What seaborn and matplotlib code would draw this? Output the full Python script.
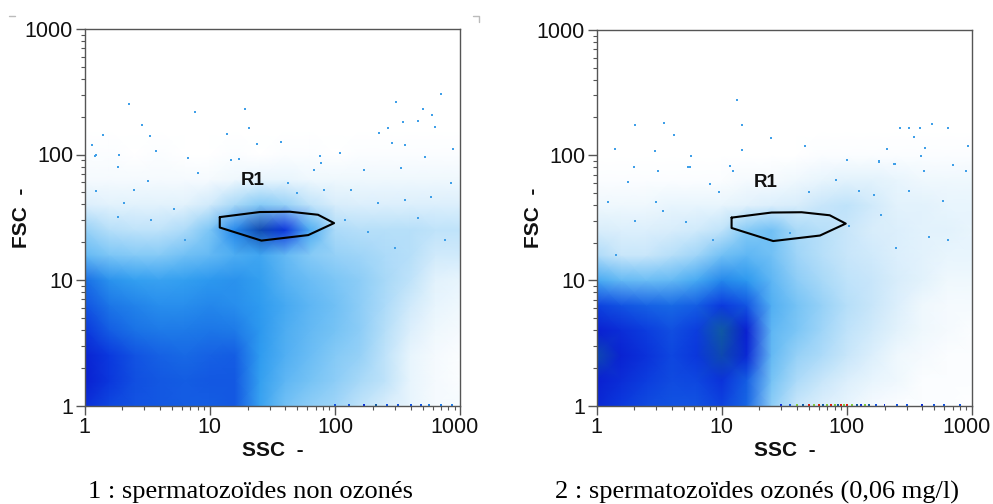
import numpy as np
import matplotlib
matplotlib.use("Agg")
import matplotlib.pyplot as plt
import seaborn as sns
from matplotlib.colors import LinearSegmentedColormap, Normalize
from matplotlib.lines import Line2D
from matplotlib.ticker import FixedFormatter, FixedLocator, LogLocator, NullFormatter
from matplotlib.transforms import ScaledTranslation

# =============================
# DATA
# =============================
# density nodes: 5 per decade on both log axes, rows go from FSC=1 upward
grid_ssc = [1, 1.58, 2.51, 3.98, 6.31, 10, 15.8, 25.1, 39.8, 63.1, 100, 158, 251, 398, 631, 1000]
grid_fsc = [1, 1.58, 2.51, 3.98, 6.31, 10, 15.8, 25.1, 39.8, 63.1, 100, 158, 251, 398, 631, 1000]

density_left = [
    [6.0, 5.3, 5.0, 4.9, 4.8, 4.8, 4.9, 2.9, 2.0, 1.6, 1.4, 1.0, 0.7, 0.4, 0.2, 0.2],
    [6.6, 5.7, 5.1, 4.9, 4.8, 4.9, 4.9, 3.0, 2.3, 1.9, 1.6, 1.3, 1.0, 0.4, 0.2, 0.1],
    [6.5, 5.6, 5.0, 4.7, 4.5, 4.7, 4.8, 3.1, 2.5, 2.1, 1.7, 1.5, 1.0, 0.4, 0.2, 0.1],
    [5.7, 4.8, 4.3, 4.1, 4.1, 4.2, 4.1, 3.2, 2.6, 2.2, 1.9, 1.6, 1.1, 0.6, 0.3, 0.2],
    [5.0, 4.2, 3.8, 3.5, 3.5, 3.7, 3.5, 3.1, 2.7, 2.3, 2.0, 1.6, 1.2, 0.8, 0.4, 0.3],
    [4.4, 3.4, 3.0, 2.9, 3.0, 3.2, 3.4, 3.0, 2.4, 2.1, 1.8, 1.6, 1.3, 1.0, 0.5, 0.4],
    [2.2, 1.8, 1.7, 1.7, 2.0, 2.2, 2.6, 2.8, 2.2, 1.7, 1.5, 1.4, 1.2, 1.1, 0.8, 0.8],
    [1.5, 1.1, 1.0, 1.0, 1.2, 1.8, 3.7, 6.9, 5.8, 2.6, 1.2, 1.1, 1.1, 1.1, 1.0, 1.0],
    [0.6, 0.5, 0.5, 0.5, 0.5, 0.8, 1.3, 1.7, 1.5, 1.0, 0.7, 0.6, 0.6, 0.6, 0.6, 0.6],
    [0.2, 0.2, 0.2, 0.2, 0.2, 0.2, 0.3, 0.4, 0.4, 0.3, 0.3, 0.3, 0.3, 0.3, 0.3, 0.3],
    [0.1, 0.1, 0.0, 0.1, 0.0, 0.0, 0.1, 0.0, 0.1, 0.1, 0.0, 0.1, 0.1, 0.1, 0.1, 0.1],
    [0.0, 0.0, 0.0, 0.0, 0.0, 0.0, 0.0, 0.0, 0.0, 0.0, 0.0, 0.0, 0.0, 0.0, 0.0, 0.0],
    [0.0, 0.0, 0.0, 0.0, 0.0, 0.0, 0.0, 0.0, 0.0, 0.0, 0.0, 0.0, 0.0, 0.0, 0.0, 0.0],
    [0.0, 0.0, 0.0, 0.0, 0.0, 0.0, 0.0, 0.0, 0.0, 0.0, 0.0, 0.0, 0.0, 0.0, 0.0, 0.0],
    [0.0, 0.0, 0.0, 0.0, 0.0, 0.0, 0.0, 0.0, 0.0, 0.0, 0.0, 0.0, 0.0, 0.0, 0.0, 0.0],
    [0.0, 0.0, 0.0, 0.0, 0.0, 0.0, 0.0, 0.0, 0.0, 0.0, 0.0, 0.0, 0.0, 0.0, 0.0, 0.0],
]

density_right = [
    [6.3, 5.6, 5.2, 5.0, 5.0, 5.4, 4.6, 1.6, 0.9, 0.6, 0.4, 0.2, 0.1, 0.1, 0.1, 0.0],
    [6.6, 6.1, 5.5, 5.2, 5.3, 5.9, 4.8, 1.9, 1.2, 0.9, 0.6, 0.4, 0.3, 0.1, 0.1, 0.1],
    [6.9, 6.5, 5.9, 5.3, 5.7, 6.9, 6.3, 2.2, 1.5, 1.2, 0.9, 0.6, 0.3, 0.2, 0.1, 0.1],
    [6.6, 6.1, 5.5, 5.1, 5.5, 7.0, 6.6, 2.3, 1.8, 1.4, 1.0, 0.8, 0.5, 0.3, 0.2, 0.1],
    [5.4, 5.0, 4.7, 4.5, 4.8, 5.6, 5.0, 2.5, 1.9, 1.5, 1.1, 0.9, 0.6, 0.3, 0.2, 0.2],
    [2.7, 2.2, 2.1, 2.2, 2.7, 3.7, 3.2, 2.3, 1.6, 1.3, 1.0, 0.9, 0.7, 0.5, 0.3, 0.3],
    [1.2, 0.9, 0.9, 1.1, 1.4, 2.0, 2.3, 2.0, 1.4, 1.1, 0.9, 0.8, 0.6, 0.5, 0.4, 0.4],
    [0.7, 0.6, 0.6, 0.7, 0.8, 1.0, 1.7, 2.0, 1.3, 1.1, 0.9, 0.7, 0.6, 0.5, 0.5, 0.4],
    [0.3, 0.3, 0.3, 0.4, 0.4, 0.4, 0.5, 0.6, 0.7, 0.9, 1.0, 0.8, 0.5, 0.5, 0.4, 0.4],
    [0.1, 0.1, 0.1, 0.1, 0.1, 0.1, 0.2, 0.2, 0.3, 0.4, 0.5, 0.5, 0.4, 0.3, 0.3, 0.3],
    [0.0, 0.0, 0.0, 0.0, 0.0, 0.0, 0.0, 0.0, 0.0, 0.1, 0.1, 0.1, 0.1, 0.1, 0.1, 0.1],
    [0.0, 0.0, 0.0, 0.0, 0.0, 0.0, 0.0, 0.0, 0.0, 0.0, 0.0, 0.0, 0.0, 0.0, 0.0, 0.0],
    [0.0, 0.0, 0.0, 0.0, 0.0, 0.0, 0.0, 0.0, 0.0, 0.0, 0.0, 0.0, 0.0, 0.0, 0.0, 0.0],
    [0.0, 0.0, 0.0, 0.0, 0.0, 0.0, 0.0, 0.0, 0.0, 0.0, 0.0, 0.0, 0.0, 0.0, 0.0, 0.0],
    [0.0, 0.0, 0.0, 0.0, 0.0, 0.0, 0.0, 0.0, 0.0, 0.0, 0.0, 0.0, 0.0, 0.0, 0.0, 0.0],
    [0.0, 0.0, 0.0, 0.0, 0.0, 0.0, 0.0, 0.0, 0.0, 0.0, 0.0, 0.0, 0.0, 0.0, 0.0, 0.0],
]

# isolated events
stray_ssc_left = [2.27, 7.6, 19, 308, 705, 498, 587, 2.85, 1.41, 3.36, 13.6, 20.6, 23.6, 37, 262,
                  349, 459, 624, 223, 1.14, 1.21, 1.9, 3.75, 360, 871, 286, 109, 75, 17, 6.7,
                  1.24, 1.84, 3.2, 1.24, 2.5, 5.2, 2.08, 14.8, 50, 82, 77, 42, 171, 336, 517,
                  843, 134, 219, 358, 584, 457, 182, 298, 746, 119, 3.4, 1.84, 6.3, 68, 8]
stray_fsc_left = [253, 217, 232, 263, 302, 231, 207, 172, 144, 141, 145, 162, 122, 125, 164,
                  183, 186, 165, 148, 118, 98, 100, 107, 119, 111, 123, 103, 97, 92, 93,
                  99, 80, 61, 51, 52, 37, 41, 91, 49, 52, 85, 59, 75, 78, 96,
                  59, 52, 41, 43, 46, 31, 24, 18, 21, 30, 30, 32, 21, 75, 71]
stray_ssc_right = [13.3, 14.6, 2.04, 3.47, 4.17, 24.6, 46, 14.6, 1.4, 2.94, 5.7, 1.0, 268, 314,
                   387, 483, 640, 344, 211, 419, 929, 394, 101, 180, 241, 11.6, 5.4, 2,
                   1.24, 1.79, 3.1, 3, 3.4, 5.6, 2.02, 5.2, 8, 9.6, 12.3, 50, 82, 126, 166,
                   182, 240, 417, 702, 897, 316, 584, 188, 457, 640, 105, 248, 1.44, 8.5, 35]
stray_fsc_right = [278, 173, 173, 180, 145, 138, 118, 110, 112, 107, 98, 184, 165, 165,
                   165, 177, 165, 139, 111, 114, 119, 98, 92, 90, 85, 82, 81, 81,
                   42, 61, 75, 42, 36, 80, 30, 29, 59, 51, 75, 51, 63, 52, 48,
                   88, 85, 75, 83, 75, 52, 43, 33, 22, 21, 27, 18, 16, 21, 24]

# events piled on the FSC=1 line, with their colour level
pile_ssc_left = [100, 130, 170, 210, 260, 320, 400, 480, 560, 700, 850]
pile_level_left = [5, 5, 6, 7, 5, 5, 5, 5, 4, 4, 4]
pile_ssc_right = [30, 35, 40, 45, 50, 55, 60, 65, 70, 75, 80, 85, 90, 95, 100, 110, 120, 130, 140, 150,
                  170, 200, 250, 300, 400, 500, 600, 800]
pile_level_right = [6, 5, 8, 7, 9, 8, 9, 7, 8, 9, 8, 7, 9, 8, 9, 8, 7, 6, 8, 7,
                    5, 6, 5, 5, 6, 5, 5, 5]

# region R1
gate_ssc = [12.0, 25, 43.5, 73, 98, 61, 25.8, 12.0, 12.0]
gate_fsc = [31.7, 34.8, 35, 33.1, 28.4, 22.8, 20.6, 26.2, 31.7]

decades = [1, 10, 100, 1000]
decade_labels = ["1", "10", "100", "1000"]
captions = ["1 : spermatozoïdes non ozonés", "2 : spermatozoïdes ozonés (0,06 mg/l)"]

# =============================
# STYLE
# =============================
sns.set_theme(style="white")
plt.rcParams["font.family"] = ["Liberation Sans", "DejaVu Sans"]

W, H = 993, 504
flow_cmap = LinearSegmentedColormap.from_list("flow", [
    (0.00, "#ffffff"),
    (0.08, "#d5ecfb"),
    (0.20, "#7cc6f6"),
    (0.34, "#2f9df0"),
    (0.48, "#1a72e6"),
    (0.62, "#0b3ade"),
    (0.74, "#0a1fd0"),
    (0.84, "#18b060"),
    (0.93, "#d8e020"),
    (1.00, "#e02010"),
])


def panel(box, density, stray_ssc, stray_fsc, pile_ssc, pile_level, label_xy, caption, caption_x):
    left, top, right, bottom = box
    ax = fig.add_axes([left / W, 1 - bottom / H, (right - left) / W, (bottom - top) / H])

    ax.pcolormesh(grid_ssc, grid_fsc, np.array(density), cmap=flow_cmap,
                  vmin=0, vmax=9, shading="gouraud", rasterized=True)
    sns.scatterplot(x=stray_ssc, y=stray_fsc, ax=ax, s=1.6, marker="s",
                    color="#3f9fe8", linewidth=0)
    sns.scatterplot(x=pile_ssc, y=[1.01] * len(pile_ssc), hue=pile_level, ax=ax, s=2, marker="s",
                    palette=flow_cmap, hue_norm=Normalize(0, 9), linewidth=0, legend=False)
    sns.lineplot(x=gate_ssc, y=gate_fsc, ax=ax, sort=False, estimator=None,
                 color="black", linewidth=1.5)

    ax.set_xscale("log")
    ax.set_yscale("log")
    ax.set_xlim(1, 1000)
    ax.set_ylim(1, 1000)

    for axis in (ax.xaxis, ax.yaxis):
        axis.set_major_locator(FixedLocator(decades))
        axis.set_major_formatter(FixedFormatter(decade_labels))
        axis.set_minor_locator(LogLocator(base=10, subs=range(2, 10), numticks=10))
        axis.set_minor_formatter(NullFormatter())

    ax.tick_params(which="major", length=6.2, width=1, color="#555555",
                   labelsize=15.5, labelcolor="#111111", pad=2, left=True, bottom=True)
    ax.tick_params(which="minor", length=3, width=0.8, color="#555555", left=True, bottom=True)

    # the last x label sits a little inside its tick
    last = ax.get_xticklabels()[-1]
    last.set_transform(last.get_transform() + ScaledTranslation(-5.5 / 100, 0, fig.dpi_scale_trans))

    for spine in ax.spines.values():
        spine.set_color("#555555")
        spine.set_linewidth(1)

    ax.set_xlabel("")
    ax.set_ylabel("")
    fig.text((left + 188.5) / W, 1 - 450 / H, "SSC  -", ha="center", va="center",
             fontsize=15, fontweight="bold", color="#111111")
    fig.text((left - 63) / W, 1 - 218 / H, "FSC  -", ha="center", va="center", rotation=90,
             fontsize=15, fontweight="bold", color="#111111")
    ax.text(label_xy[0], label_xy[1], "R1", ha="center", va="center",
            fontsize=13.5, fontweight="bold", color="#111111")
    fig.text(caption_x / W, 1 - 492 / H, caption, ha="center", va="center",
             fontsize=19, family=["Liberation Serif", "DejaVu Serif"], color="black")
    return ax


# =============================
# FIGURE
# =============================
fig = plt.figure(figsize=(W / 100, H / 100), dpi=100)

panel((84.5, 29, 460.5, 405.5), density_left, stray_ssc_left, stray_fsc_left,
      pile_ssc_left, pile_level_left, (22, 62), captions[0], 250)
panel((596.5, 30, 972, 405.5), density_right, stray_ssc_right, stray_fsc_right,
      pile_ssc_right, pile_level_right, (22.5, 61), captions[1], 757)

# small scan marks at the corners of the left plot
for xs, ys in [([9, 15], [16, 16]), ([473, 479, 479], [16, 16, 22])]:
    fig.add_artist(Line2D([x / W for x in xs], [1 - y / H for y in ys], color="#bbbbbb", linewidth=1))

fig.savefig("out.png", dpi=100)
